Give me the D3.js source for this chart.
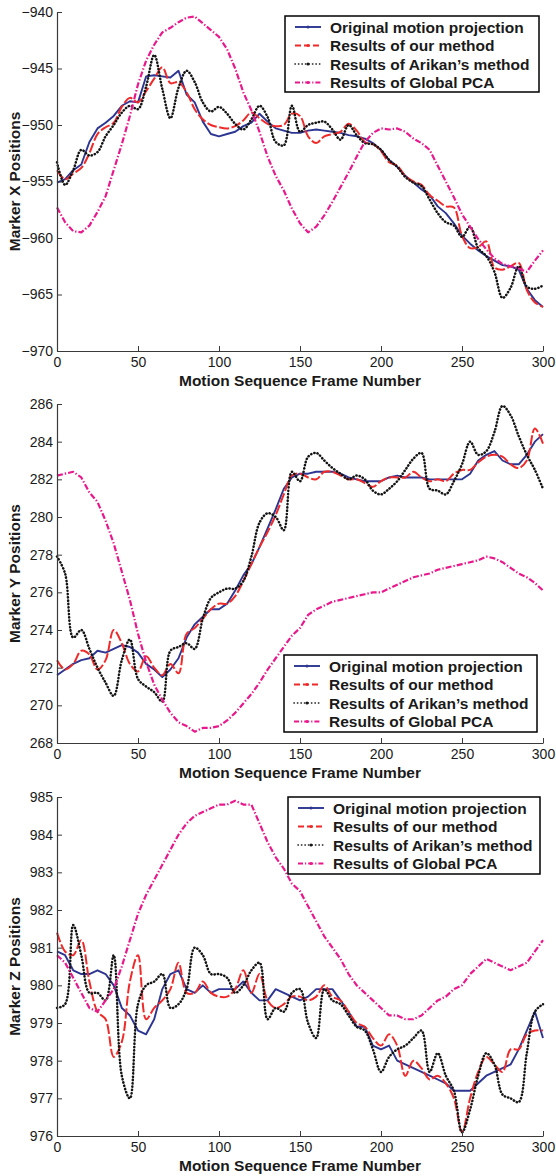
<!DOCTYPE html>
<html><head><meta charset="utf-8">
<script src="https://cdn.jsdelivr.net/npm/d3@7"></script>
<style>
body{margin:0;background:#fff}
svg{display:block}
text{font-family:"Liberation Sans",Arial,Helvetica,sans-serif}
</style>
</head><body>
<svg id="c" width="556" height="1176"></svg>
<script>
// ---------- DATA ----------
const frames = [
  0,5,10,15,20,25,30,35,40,45,
  50,55,60,65,70,75,80,85,90,95,
  100,105,110,115,120,125,130,135,140,145,
  150,155,160,165,170,175,180,185,190,195,
  200,205,210,215,220,225,230,235,240,245,
  250,255,260,265,270,275,280,285,290,295,
  300];
const seriesNames = ["Original motion projection","Results of our method","Results of Arikan\u2019s method","Results of Global PCA"];
const xTickValues = [0,50,100,150,200,250,300];
const xTickLabels = ["0","50","100","150","200","250","300"];
const xTitle = "Motion Sequence Frame Number";
const yTitles = ["Marker X Positions","Marker Y Positions","Marker Z Positions"];
const yTicksX = [-970,-965,-960,-955,-950,-945,-940];
const yTicksY = [268,270,272,274,276,278,280,282,284,286];
const yTicksZ = [976,977,978,979,980,981,982,983,984,985];

// Panel 1: Marker X
const xOriginal = [
  -955.1,-954.8,-954.0,-953.5,-951.5,-950.3,-949.8,-949.2,-948.3,-947.9,
  -948.0,-945.7,-945.6,-945.7,-945.8,-945.2,-947.3,-948.0,-949.7,-950.8,
  -951.0,-950.8,-950.6,-950.1,-949.8,-949.0,-949.7,-950.3,-950.5,-950.7,
  -950.7,-950.5,-950.4,-950.5,-950.6,-950.7,-950.9,-951.0,-951.2,-951.6,
  -952.2,-953.1,-953.7,-954.5,-955.1,-955.7,-956.2,-957.2,-957.8,-958.7,
  -959.8,-960.5,-961.1,-961.6,-962.0,-962.4,-962.5,-962.8,-964.5,-965.5,
  -966.1];
const xOurs = [
  -954.0,-954.8,-954.3,-953.8,-952.5,-950.8,-950.2,-949.8,-948.4,-947.6,
  -948.0,-947.0,-945.9,-944.9,-946.3,-946.2,-947.1,-948.6,-949.5,-950.0,
  -950.2,-950.3,-950.1,-949.6,-948.9,-949.4,-949.9,-950.1,-950.0,-949.0,
  -949.2,-951.0,-951.6,-951.0,-950.8,-950.6,-949.9,-950.5,-951.5,-951.7,
  -952.3,-953.3,-953.6,-954.5,-955.0,-955.3,-956.2,-956.7,-957.2,-957.3,
  -959.8,-960.9,-960.8,-960.3,-962.6,-962.8,-962.5,-962.2,-964.6,-965.7,
  -966.1];
const xArikan = [
  -953.3,-955.3,-954.0,-952.2,-952.7,-952.4,-951.0,-950.0,-948.9,-948.3,
  -948.6,-946.6,-943.8,-946.8,-949.4,-946.7,-945.2,-946.2,-948.0,-948.8,
  -948.4,-949.0,-949.9,-950.4,-949.5,-948.3,-949.3,-951.5,-951.8,-948.3,
  -950.6,-950.0,-949.8,-949.7,-950.4,-951.3,-950.0,-950.9,-951.6,-951.7,
  -952.2,-953.1,-953.7,-954.6,-955.1,-955.4,-956.6,-957.8,-958.6,-958.9,
  -959.9,-959.0,-960.9,-961.6,-963.0,-965.3,-964.4,-962.5,-964.3,-964.5,
  -964.2];
const xGlobalPCA = [
  -957.3,-958.6,-959.4,-959.5,-958.9,-957.7,-956.3,-954.0,-951.7,-949.2,
  -946.4,-944.3,-942.9,-941.8,-941.4,-940.9,-940.5,-940.4,-941.0,-941.6,
  -942.2,-943.3,-945.0,-947.1,-948.7,-950.6,-952.8,-954.5,-955.8,-957.4,
  -958.7,-959.5,-959.0,-958.0,-956.8,-955.5,-954.2,-952.8,-951.5,-950.7,
  -950.3,-950.4,-950.3,-950.6,-951.2,-951.6,-952.2,-953.6,-955.0,-956.4,
  -957.9,-959.0,-960.1,-961.0,-961.8,-962.3,-962.5,-962.7,-963.0,-962.0,
  -961.1];

// Panel 2: Marker Y
const yOriginal = [
  271.6,271.9,272.2,272.4,272.5,272.9,272.8,273.0,273.2,273.1,
  272.8,272.2,271.9,271.5,271.9,272.5,273.6,274.3,274.7,275.1,
  275.1,275.4,276.1,276.9,277.5,278.4,279.4,280.4,281.5,282.1,
  282.3,282.3,282.4,282.4,282.4,282.3,282.1,282.0,281.9,281.9,
  281.9,282.1,282.2,282.1,282.1,282.1,282.0,282.0,282.0,282.0,
  282.0,282.3,283.0,283.3,283.5,283.0,282.8,282.8,283.3,284.0,
  284.4];
const yOurs = [
  272.4,271.9,272.2,272.9,272.7,271.9,272.4,274.0,273.3,272.2,
  271.8,272.6,272.0,271.6,272.2,271.7,273.8,274.1,274.6,275.1,
  275.4,275.4,275.8,276.6,277.5,278.4,279.2,280.1,281.2,282.2,
  282.3,282.1,282.0,282.4,282.4,282.2,282.0,282.0,281.8,281.6,
  281.9,282.1,282.1,282.1,282.4,282.1,281.9,282.0,281.9,282.3,
  282.5,282.5,282.9,283.2,283.3,283.2,282.8,282.6,283.0,284.7,
  283.9];
const yArikan = [
  277.9,277.0,273.6,274.0,273.0,272.0,271.2,270.5,272.4,273.5,
  271.4,271.0,270.7,270.2,272.9,273.1,273.3,273.0,274.6,275.7,
  276.0,276.2,276.2,276.6,277.9,279.7,280.2,280.0,279.3,282.4,
  281.9,283.2,283.4,283.0,282.6,282.3,282.0,282.2,282.0,281.4,
  281.2,281.5,281.9,282.5,283.1,283.4,281.5,281.4,281.2,281.9,
  282.8,284.0,283.3,283.5,284.5,285.9,285.4,284.3,283.3,282.5,
  281.5];
const yGlobalPCA = [
  282.2,282.3,282.4,282.1,281.3,280.8,279.8,278.6,277.1,275.6,
  273.8,272.3,271.1,270.3,269.6,269.1,268.9,268.6,268.8,268.8,
  268.9,269.2,269.6,270.1,270.6,271.2,271.9,272.5,273.1,273.7,
  274.1,274.8,275.1,275.3,275.5,275.6,275.7,275.8,275.9,276.0,
  276.0,276.2,276.4,276.6,276.8,276.9,277.0,277.2,277.3,277.4,
  277.5,277.6,277.7,277.9,277.8,277.6,277.3,277.0,276.8,276.5,
  276.1];

// Panel 3: Marker Z
const zOriginal = [
  980.9,980.8,980.4,980.3,980.3,980.4,980.3,980.0,979.4,979.2,
  978.8,978.7,979.1,979.9,980.3,980.4,979.9,979.8,980.0,979.8,
  979.9,979.9,979.9,980.1,979.8,979.6,979.6,979.9,979.8,979.7,
  979.6,979.7,979.9,979.9,979.9,979.6,979.3,978.9,978.9,978.4,
  978.3,978.4,978.0,977.9,977.8,977.7,977.6,977.5,977.4,977.2,
  977.2,977.2,977.4,977.6,977.7,977.8,977.9,978.3,978.8,979.3,
  978.6];
const zOurs = [
  981.4,980.9,980.8,981.2,980.1,979.3,979.1,978.1,978.5,980.1,
  980.8,979.1,979.4,979.6,979.9,980.6,979.8,979.8,980.1,979.8,
  979.7,979.7,979.9,980.4,979.8,980.3,979.6,979.4,979.5,979.7,
  979.7,979.6,979.7,980.0,979.7,979.6,979.3,979.0,978.9,978.6,
  978.4,978.7,978.4,977.6,978.0,977.8,977.5,977.6,977.4,977.0,
  976.1,977.0,977.7,978.1,977.9,977.7,978.3,978.3,978.7,978.8,
  978.8];
const zArikan = [
  979.4,979.5,981.6,980.8,979.8,979.8,979.6,980.8,977.6,977.0,
  979.5,980.0,980.1,980.3,979.4,979.5,979.9,981.0,980.8,980.3,
  980.3,980.2,979.8,980.0,980.4,980.6,979.1,979.4,979.3,979.8,
  979.9,979.0,978.6,979.9,979.6,979.5,979.2,978.9,978.8,978.3,
  977.7,978.1,978.3,978.4,978.6,978.8,977.7,978.2,977.6,977.2,
  976.1,976.7,977.6,978.2,977.9,977.1,977.0,976.9,978.2,979.3,
  979.5];
const zGlobalPCA = [
  980.8,980.6,980.2,979.8,979.4,979.3,979.6,979.9,980.5,981.2,
  981.9,982.4,982.8,983.2,983.6,984.0,984.3,984.5,984.6,984.7,
  984.8,984.8,984.9,984.8,984.8,984.3,983.8,983.4,983.1,982.7,
  982.5,982.1,981.7,981.3,981.0,980.7,980.3,980.0,979.8,979.6,
  979.4,979.2,979.2,979.1,979.1,979.2,979.4,979.6,979.7,979.9,
  980.0,980.3,980.5,980.7,980.6,980.5,980.4,980.5,980.6,980.9,
  981.2];

// ---------- LAYOUT / STYLE ----------
const svg = d3.select("#c");
const plotLeft = 57, plotRight = 543;
const panels = [
  {top:12,  bottom:351,  ticks:yTicksX, title:yTitles[0], series:[xOriginal,xOurs,xArikan,xGlobalPCA], legend:{x:285,y:16,w:254,h:76}},
  {top:404, bottom:743,  ticks:yTicksY, title:yTitles[1], series:[yOriginal,yOurs,yArikan,yGlobalPCA], legend:{x:284,y:655,w:253,h:77}},
  {top:797, bottom:1136, ticks:yTicksZ, title:yTitles[2], series:[zOriginal,zOurs,zArikan,zGlobalPCA], legend:{x:288,y:797,w:252,h:77}}
];
const styles = [
  {color:"#2c3591", width:1.9, dash:null, cap:"butt", curve:d3.curveLinear},
  {color:"#ee2a2a", width:2.0, dash:"10,2.5", cap:"butt", curve:d3.curveCatmullRom.alpha(0.5)},
  {color:"#141414", width:2.5, dash:"0.3,3.0", cap:"round", curve:d3.curveCatmullRom.alpha(0.5)},
  {color:"#e8198c", width:2.2, dash:"6,2,1.4,2", cap:"butt", curve:d3.curveLinear}
];
const legendDash = ["", "6,3", "0.3,3.2", "5,2,1.2,2"];
const axisColor = "#3a3a3a";

const x = d3.scaleLinear().domain([xTickValues[0], xTickValues[xTickValues.length-1]]).range([plotLeft, plotRight]);

panels.forEach(p => {
  const ext = d3.extent(p.ticks);
  const y = d3.scaleLinear().domain(ext).range([p.bottom, p.top]);
  const g = svg.append("g");

  p.series.forEach((vals, si) => {
    const st = styles[si];
    const line = d3.line()
      .defined((d,i) => vals[i] != null)
      .x((d,i) => x(frames[i]))
      .y((d,i) => y(vals[i]))
      .curve(st.curve);
    g.append("path")
      .attr("d", line(frames))
      .attr("fill","none")
      .attr("stroke", st.color)
      .attr("stroke-width", st.width)
      .attr("stroke-linecap", st.cap)
      .attr("stroke-linejoin","round")
      .attr("stroke-dasharray", st.dash);
  });

  const xa = g.append("g").attr("transform",`translate(0,${p.bottom})`)
    .call(d3.axisBottom(x).tickValues(xTickValues).tickFormat((d,i)=>xTickLabels[i])
      .tickSizeInner(-5).tickSizeOuter(0).tickPadding(6));
  const ya = g.append("g").attr("transform",`translate(${plotLeft},0)`)
    .call(d3.axisLeft(y).tickValues(p.ticks).tickFormat(d3.format("d"))
      .tickSizeInner(-5).tickSizeOuter(0).tickPadding(4));
  [xa, ya].forEach(a => {
    a.select(".domain").attr("stroke", axisColor).attr("stroke-width",1.2);
    a.selectAll(".tick line").attr("stroke", axisColor).attr("stroke-width",1);
    a.selectAll(".tick text").attr("fill","#1a1a1a").style("font-size","14px").style("font-family",'"Liberation Sans",Arial,sans-serif');
  });

  g.append("text")
    .attr("x", (plotLeft+plotRight)/2).attr("y", p.bottom + 35)
    .attr("text-anchor","middle").style("font-size","15.5px").style("font-weight","bold").attr("fill","#1a1a1a")
    .text(xTitle);
  g.append("text")
    .attr("transform",`translate(20,${(p.top+p.bottom)/2}) rotate(-90)`)
    .attr("text-anchor","middle").style("font-size","15.5px").style("font-weight","bold").attr("fill","#1a1a1a")
    .text(p.title);

  const L = p.legend;
  const lg = g.append("g").attr("transform",`translate(${L.x},${L.y})`);
  lg.append("rect").attr("width",L.w).attr("height",L.h).attr("fill","#fff").attr("stroke","#000").attr("stroke-width",1.5);
  seriesNames.forEach((name, si) => {
    const st = styles[si];
    const cy = 11 + si*18.5;
    lg.append("line").attr("x1",10).attr("x2",36).attr("y1",cy).attr("y2",cy)
      .attr("stroke",st.color).attr("stroke-width", si===2 ? 1.6 : st.width)
      .attr("stroke-linecap", st.cap)
      .attr("stroke-dasharray", legendDash[si] || null);
    lg.append("circle").attr("cx",23).attr("cy",cy).attr("r",1.5).attr("fill",st.color);
    lg.append("text").attr("x",45).attr("y",cy+5.5)
      .style("font-size","15.5px").style("font-weight","bold").attr("fill","#1a1a1a")
      .text(name);
  });
});
</script>
</body></html>
